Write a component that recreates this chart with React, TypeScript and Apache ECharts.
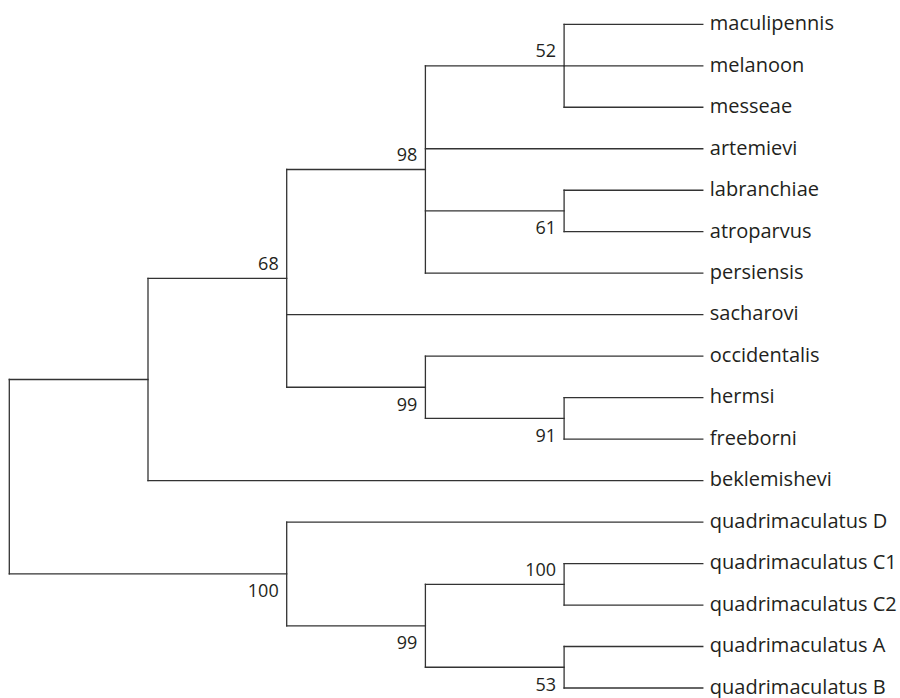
import React, { useEffect, useRef } from "react";
import * as echarts from "echarts";

// Leaves (top to bottom) and the clade each one hangs from
const leafNames = [
  "maculipennis", "melanoon", "messeae", "artemievi", "labranchiae", "atroparvus",
  "persiensis", "sacharovi", "occidentalis", "hermsi", "freeborni", "beklemishevi",
  "quadrimaculatus D", "quadrimaculatus C1", "quadrimaculatus C2",
  "quadrimaculatus A", "quadrimaculatus B",
];
const leafParent = [
  "n52", "n52", "n52", "n98", "n61", "n61", "n98", "n68", "n99a", "n91", "n91", "n1",
  "n100a", "n100b", "n100b", "n53", "n53",
];

// Internal clades, their parents and bootstrap support values
const cladeIds = ["root", "n1", "n68", "n98", "n52", "n61", "n99a", "n91", "n100a", "n99b", "n100b", "n53"];
const cladeParent = ["", "root", "n1", "n68", "n98", "n98", "n68", "n99a", "root", "n100a", "n99b", "n99b"];
const cladeSupport: (number | null)[] = [null, null, 68, 98, 52, 61, 99, 91, 100, 99, 100, 53];
const supportSide = ["", "", "above", "above", "above", "below", "below", "below", "below", "below", "above", "below"];

const LINE = "#333333";
const TEXT = "#231f20";
const FONT = "'Open Sans', 'Noto Sans', sans-serif";

function buildTree() {
  type Child = { id: string; isLeaf: boolean; idx: number };
  const children: Record<string, Child[]> = {};
  cladeIds.forEach((id) => (children[id] = []));
  leafNames.forEach((_, i) => children[leafParent[i]].push({ id: "leaf" + i, isLeaf: true, idx: i }));
  cladeIds.forEach((id, i) => {
    if (cladeParent[i]) children[cladeParent[i]].push({ id, isLeaf: false, idx: i });
  });

  // height: steps above the leaves (cladogram with leaves aligned)
  const hMemo: Record<string, number> = {};
  const height = (id: string): number => {
    if (hMemo[id] !== undefined) return hMemo[id];
    hMemo[id] = 1 + Math.max(...children[id].map((c) => (c.isLeaf ? 0 : height(c.id))));
    return hMemo[id];
  };
  const yMemo: Record<string, number> = {};
  const cladeY = (id: string): number => {
    if (yMemo[id] !== undefined) return yMemo[id];
    const ys = children[id].map((c) => (c.isLeaf ? c.idx : cladeY(c.id)));
    yMemo[id] = (Math.min(...ys) + Math.max(...ys)) / 2;
    return yMemo[id];
  };
  const leafX = height("root");
  const xOf = (c: Child) => (c.isLeaf ? leafX : leafX - height(c.id));
  const yOf = (c: Child) => (c.isLeaf ? c.idx : cladeY(c.id));

  const segments: number[][] = [];
  cladeIds.forEach((id) => {
    const ys = children[id].map(yOf);
    const x = leafX - height(id);
    segments.push([x, Math.min(...ys), x, Math.max(...ys)]);
    children[id].forEach((c) => {
      const cy = yOf(c);
      segments.push([x, cy, xOf(c), cy]);
    });
  });

  const supportPts: number[][] = [];
  const supportText: string[] = [];
  const supportPos: string[] = [];
  cladeIds.forEach((id, i) => {
    if (cladeSupport[i] !== null) {
      supportPts.push([leafX - height(id), cladeY(id)]);
      supportText.push(String(cladeSupport[i]));
      supportPos.push(supportSide[i]);
    }
  });
  const leafPts = leafNames.map((_, i) => [leafX, i]);
  return { segments, supportPts, supportText, supportPos, leafPts, leafX };
}

export default function App() {
  const ref = useRef<HTMLDivElement>(null);
  useEffect(() => {
    if (!ref.current) return;
    const chart = echarts.init(ref.current, undefined, { renderer: "svg" });
    const t = buildTree();
    chart.setOption({
      animation: false,
      backgroundColor: "#ffffff",
      grid: { left: 9.3, right: 197.2, top: 24.3, bottom: 10, containLabel: false },
      xAxis: { type: "value", min: 0, max: t.leafX, show: false },
      yAxis: { type: "value", min: 0, max: leafNames.length - 1, inverse: true, show: false },
      series: [
        {
          type: "custom",
          silent: true,
          data: t.segments,
          renderItem: (params: any, api: any) => {
            const a = api.coord([api.value(0), api.value(1)]);
            const b = api.coord([api.value(2), api.value(3)]);
            return {
              type: "line",
              shape: { x1: a[0], y1: a[1], x2: b[0], y2: b[1] },
              style: { stroke: LINE, lineWidth: 1.3, lineCap: "square" },
            };
          },
        },
        {
          type: "custom",
          silent: true,
          data: t.leafPts,
          renderItem: (params: any, api: any) => {
            const p = api.coord([api.value(0), api.value(1)]);
            return {
              type: "text",
              x: p[0] + 7,
              y: p[1] - 1.7,
              style: {
                text: leafNames[params.dataIndex],
                fill: TEXT,
                font: `20px ${FONT}`,
                align: "left",
                verticalAlign: "middle",
              },
            };
          },
        },
        {
          type: "custom",
          silent: true,
          data: t.supportPts,
          renderItem: (params: any, api: any) => {
            const p = api.coord([api.value(0), api.value(1)]);
            const above = t.supportPos[params.dataIndex] === "above";
            return {
              type: "text",
              x: p[0] - 8,
              y: p[1] + (above ? -15.5 : 16.5),
              style: {
                text: t.supportText[params.dataIndex],
                fill: TEXT,
                font: `18px ${FONT}`,
                align: "right",
                verticalAlign: "middle",
              },
            };
          },
        },
      ],
    });
    return () => chart.dispose();
  }, []);
  return (
    <div
      ref={ref}
      style={{ position: "fixed", left: 0, top: 0, width: 900, height: 698, background: "#fff" }}
    />
  );
}
